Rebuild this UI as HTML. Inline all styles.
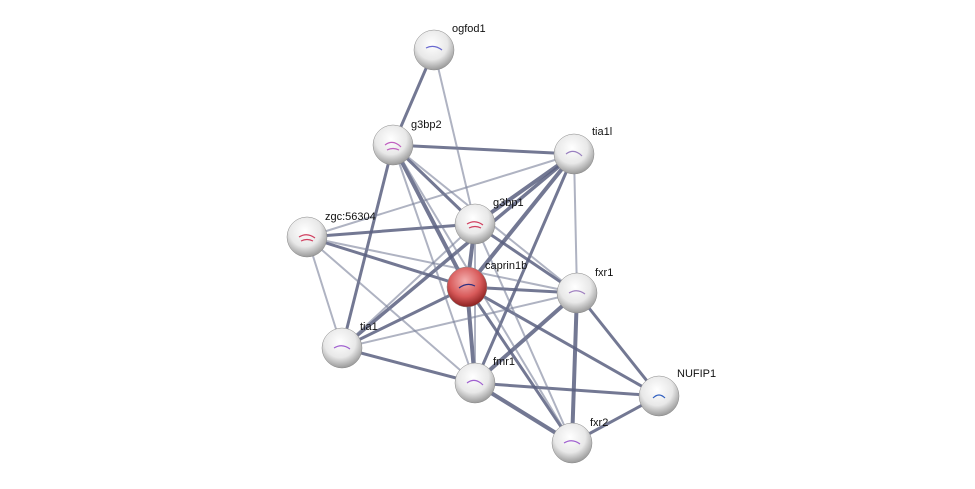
<!DOCTYPE html>
<html><head><meta charset="utf-8"><style>
html,body{margin:0;padding:0;background:#fff;}
svg{display:block;}
text{font-family:"Liberation Sans",sans-serif;font-size:11px;fill:#111;}
</style></head><body>
<svg width="975" height="489" viewBox="0 0 975 489" xmlns="http://www.w3.org/2000/svg">
<defs>
<radialGradient id="g" cx="45%" cy="35%" r="65%">
<stop offset="0" stop-color="#ffffff"/><stop offset="0.6" stop-color="#e8e8e8"/><stop offset="1" stop-color="#9a9a9a"/>
</radialGradient>
<radialGradient id="r" cx="45%" cy="35%" r="65%">
<stop offset="0" stop-color="#f4b0b0"/><stop offset="0.6" stop-color="#d85a5a"/><stop offset="1" stop-color="#8a2020"/>
</radialGradient>
</defs>
<g stroke-linecap="round">
<g stroke="#5a6080" stroke-opacity="0.85" stroke-width="3">
<line x1="393" y1="145" x2="467" y2="287" stroke-width="4"/>
<line x1="393" y1="145" x2="475" y2="224"/>
<line x1="393" y1="145" x2="574" y2="154"/>
<line x1="574" y1="154" x2="467" y2="287" stroke-width="4"/>
<line x1="574" y1="154" x2="475" y2="224" stroke-width="4"/>
<line x1="475" y1="224" x2="467" y2="287" stroke-width="4"/>
<line x1="467" y1="287" x2="577" y2="293"/>
<line x1="467" y1="287" x2="475" y2="383" stroke-width="4"/>
<line x1="467" y1="287" x2="342" y2="348"/>
<line x1="467" y1="287" x2="307" y2="237"/>
<line x1="577" y1="293" x2="475" y2="383" stroke-width="4"/>
<line x1="577" y1="293" x2="572" y2="443" stroke-width="4"/>
<line x1="577" y1="293" x2="659" y2="396"/>
<line x1="475" y1="383" x2="572" y2="443" stroke-width="4"/>
<line x1="475" y1="383" x2="659" y2="396"/>
<line x1="572" y1="443" x2="659" y2="396"/>
<line x1="467" y1="287" x2="572" y2="443"/>
<line x1="467" y1="287" x2="659" y2="396"/>
<line x1="342" y1="348" x2="475" y2="383"/>
<line x1="342" y1="348" x2="574" y2="154" stroke-width="3.5"/>
<line x1="434" y1="50" x2="393" y2="145"/>
<line x1="307" y1="237" x2="475" y2="224"/>
<line x1="475" y1="224" x2="577" y2="293"/>
<line x1="393" y1="145" x2="342" y2="348"/>
<line x1="574" y1="154" x2="475" y2="383"/>
</g>
<g stroke="#7a809a" stroke-opacity="0.6" stroke-width="2">
<line x1="434" y1="50" x2="475" y2="224"/>
<line x1="307" y1="237" x2="574" y2="154"/>
<line x1="307" y1="237" x2="342" y2="348"/>
<line x1="307" y1="237" x2="475" y2="383"/>
<line x1="307" y1="237" x2="577" y2="293"/>
<line x1="393" y1="145" x2="577" y2="293"/>
<line x1="393" y1="145" x2="475" y2="383"/>
<line x1="393" y1="145" x2="572" y2="443"/>
<line x1="574" y1="154" x2="577" y2="293"/>
<line x1="475" y1="224" x2="342" y2="348"/>
<line x1="475" y1="224" x2="572" y2="443"/>
<line x1="342" y1="348" x2="577" y2="293"/>
<line x1="475" y1="224" x2="475" y2="383"/>
</g>
</g>
<g stroke="#888" stroke-width="0.5">
<circle cx="434" cy="50" r="20" fill="url(#g)"/>
<circle cx="393" cy="145" r="20" fill="url(#g)"/>
<circle cx="574" cy="154" r="20" fill="url(#g)"/>
<circle cx="307" cy="237" r="20" fill="url(#g)"/>
<circle cx="475" cy="224" r="20" fill="url(#g)"/>
<circle cx="577" cy="293" r="20" fill="url(#g)"/>
<circle cx="342" cy="348" r="20" fill="url(#g)"/>
<circle cx="475" cy="383" r="20" fill="url(#g)"/>
<circle cx="659" cy="396" r="20" fill="url(#g)"/>
<circle cx="572" cy="443" r="20" fill="url(#g)"/>
<circle cx="467" cy="287" r="20" fill="url(#r)"/>
</g>
<g fill="none" stroke-width="1.2">
<path d="M426 48 q8 -4 16 2" stroke="#6a6ad0"/>
<path d="M385 145 q8 -6 16 2 M387 150 q6 -3 12 0" stroke="#c060c0"/>
<path d="M566 154 q8 -6 16 2" stroke="#9a80c0"/>
<path d="M299 237 q8 -5 16 1 M301 241 q6 -3 12 0" stroke="#d04060"/>
<path d="M467 224 q8 -5 16 1 M469 228 q6 -3 12 0" stroke="#d04060"/>
<path d="M459 288 q8 -6 16 -2" stroke="#303080"/>
<path d="M569 293 q8 -5 16 1" stroke="#a080c0"/>
<path d="M334 348 q8 -5 16 1" stroke="#a060d0"/>
<path d="M467 383 q8 -6 16 2" stroke="#a060d0"/>
<path d="M653 398 q6 -6 12 0" stroke="#3060c0"/>
<path d="M564 443 q8 -5 16 1" stroke="#a060d0"/>
</g>
<text x="452" y="32">ogfod1</text>
<text x="411" y="128">g3bp2</text>
<text x="592" y="135">tia1l</text>
<text x="325" y="220">zgc:56304</text>
<text x="493" y="206">g3bp1</text>
<text x="485" y="269">caprin1b</text>
<text x="595" y="276">fxr1</text>
<text x="360" y="330">tia1</text>
<text x="493" y="365">fmr1</text>
<text x="677" y="377">NUFIP1</text>
<text x="590" y="426">fxr2</text>
</svg>
</body></html>
